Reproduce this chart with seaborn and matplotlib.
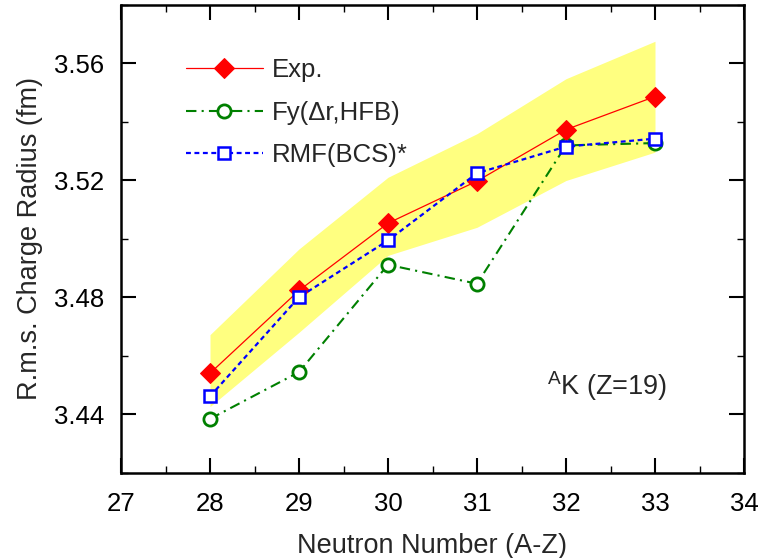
import numpy as np
import pandas as pd
import matplotlib
matplotlib.use("Agg")
import matplotlib.pyplot as plt
import seaborn as sns
from matplotlib.ticker import MultipleLocator

# ---- data ----
neutrons = [28, 29, 30, 31, 32, 33]
exp_r = [3.4541, 3.4824, 3.5054, 3.5198, 3.5374, 3.5487]
fy_r = [3.4385, 3.4545, 3.4912, 3.4847, 3.5320, 3.5328]
rmf_r = [3.4462, 3.4801, 3.4995, 3.5225, 3.5316, 3.5343]
band_lo = [3.4427, 3.4681, 3.4944, 3.5040, 3.5200, 3.5297]
band_hi = [3.4673, 3.4966, 3.5211, 3.5360, 3.5548, 3.5676]
series_labels = ["Exp.", "Fy(\u0394r,HFB)", "RMF(BCS)*"]
x_ticks = [27, 28, 29, 30, 31, 32, 33, 34]
y_ticks = [3.44, 3.48, 3.52, 3.56]

sns.set_style("ticks")
plt.rcParams["font.family"] = ["Liberation Sans", "DejaVu Sans"]
plt.rcParams["mathtext.fontset"] = "custom"
plt.rcParams["mathtext.rm"] = "Liberation Sans"

fig = plt.figure(figsize=(7.59, 5.58), dpi=100)
ax = fig.add_axes([121 / 759, 1 - 473 / 558, 623 / 759, 468 / 558])

ax.fill_between(neutrons, band_lo, band_hi, color="#ffff80", lw=0, zorder=1)

df = pd.DataFrame({"N": neutrons, "exp": exp_r, "fy": fy_r, "rmf": rmf_r})

sns.lineplot(data=df, x="N", y="exp", ax=ax, color="red", lw=0.9,
             marker="D", markersize=10.5, markerfacecolor="red",
             markeredgecolor="red", label=series_labels[0], zorder=4)
sns.lineplot(data=df, x="N", y="fy", ax=ax, color="green", lw=1.5,
             linestyle=(0, (5, 2.5, 1, 2.5)),
             marker="o", markersize=9.5, markerfacecolor="white",
             markeredgecolor="green", markeredgewidth=2.0,
             label=series_labels[1], zorder=3)
sns.lineplot(data=df, x="N", y="rmf", ax=ax, color="blue", lw=1.6,
             linestyle=(0, (2.2, 1.6)),
             marker="s", markersize=8.5, markerfacecolor="white",
             markeredgecolor="blue", markeredgewidth=1.8,
             label=series_labels[2], zorder=5)

ax.set_xlim(27, 34)
ax.set_ylim(3.42, 3.58)
ax.set_xticks(x_ticks)
ax.set_yticks(y_ticks)
ax.set_yticklabels([f"{v:.2f}" for v in y_ticks])
ax.xaxis.set_minor_locator(MultipleLocator(0.5))
ax.yaxis.set_minor_locator(MultipleLocator(0.02))

ax.tick_params(which="both", direction="in", top=True, right=True,
               labelsize=18.5, colors="black")
ax.tick_params(which="major", length=11, width=1.5, pad=14)
ax.tick_params(which="minor", length=5, width=1.0)
ax.tick_params(axis="y", which="major", pad=12)
for s in ax.spines.values():
    s.set_linewidth(1.8)
    s.set_color("black")

ax.set_xlabel("Neutron Number (A-Z)", fontsize=19.5, labelpad=12)
ax.set_ylabel("R.m.s. Charge Radius (fm)", fontsize=19.5, labelpad=8)

ax.text(0.684, 0.167, r"$^{\mathrm{A}}$K (Z=19)", transform=ax.transAxes,
        fontsize=19.5, va="baseline", ha="left")

leg = ax.legend(loc="upper left", bbox_to_anchor=(0.104, 0.886),
                frameon=False, fontsize=18.5, handlelength=3.0,
                handletextpad=0.35, labelspacing=0.72, borderpad=0,
                borderaxespad=0)

fig.savefig("out.png", dpi=100)
